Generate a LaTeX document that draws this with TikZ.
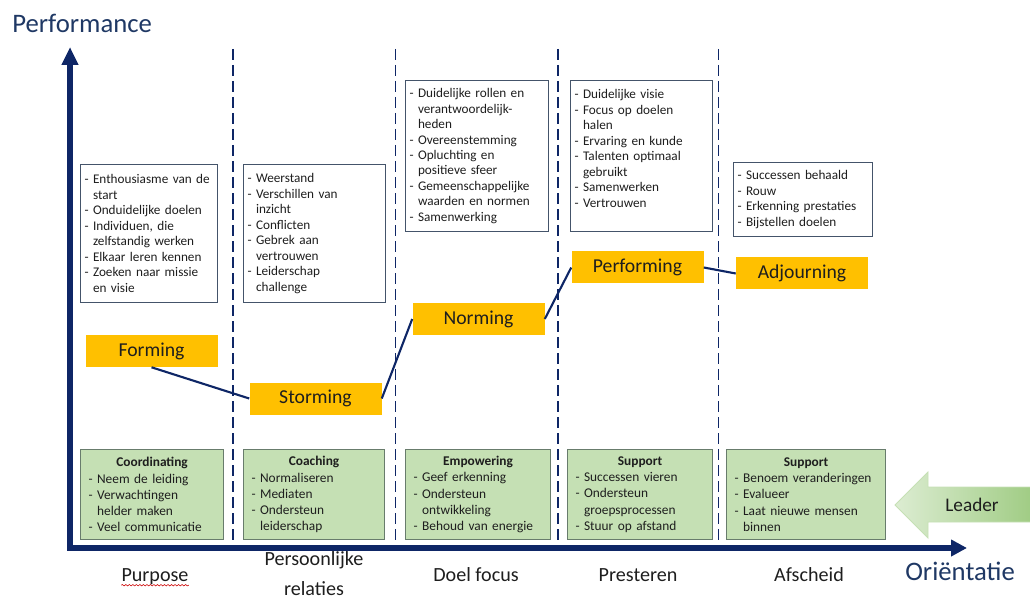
\documentclass[tikz,border=0pt]{standalone}
\usepackage{fontspec}
\setmainfont{Carlito}
\usetikzlibrary{positioning,arrows.meta,decorations.pathmorphing}
\definecolor{Navy}{RGB}{14,38,102}
\definecolor{NavyText}{RGB}{31,56,100}
\definecolor{Slate}{RGB}{68,84,106}
\definecolor{Amber}{RGB}{255,192,0}
\definecolor{Sage}{RGB}{197,224,180}
\definecolor{SageDark}{RGB}{104,124,108}
\definecolor{Leaf}{RGB}{160,204,132}
\definecolor{Ink}{RGB}{30,30,30}

% indent for wrapped list lines
\newcommand{\cont}{\hphantom{-\ }}

\begin{document}
\begin{tikzpicture}[
    note/.style={rectangle,draw=Slate,fill=white,line width=0.8pt,anchor=north west,align=left,inner xsep=0.1cm,text=Ink,font=\fontsize{9.4}{11}\selectfont},
    lead/.style={rectangle,draw=SageDark,fill=Sage,line width=0.8pt,anchor=north west,align=left,inner xsep=0.2cm,minimum height=2.25cm,text=Ink,font=\fontsize{9.5}{11.5}\selectfont},
    stage/.style={rectangle,fill=Amber,minimum width=3.3cm,minimum height=0.8cm,text=Ink,font=\fontsize{14}{16}\selectfont},
    phase/.style={inner sep=0pt,anchor=base,text=Ink,font=\fontsize{14.3}{21}\selectfont},
    axislabel/.style={inner sep=0pt,anchor=base west,text=NavyText,font=\fontsize{19}{22}\selectfont},
    axisline/.style={Navy,line width=3.6pt,line join=miter,{Triangle[length=0.45cm,width=0.4cm]}-{Triangle[length=0.4cm,width=0.4cm]}},
    divider/.style={Navy,line width=1.4pt,dash pattern=on 0.27cm off 0.13cm},
    link/.style={Navy,line width=1.5pt}
]
\useasboundingbox (0,0) rectangle (25.75,14.975);

% axes
\coordinate (origin) at (1.75,1.275);
\coordinate (ytip) at (1.75,13.8);
\coordinate (xtip) at (24.175,1.275);
\draw[axisline] (ytip) -- (origin) -- (xtip);
\node[axislabel] (perf) at (0.3,14.15) {Performance};
\node[axislabel] (orient) at (22.625,0.475) {Oriëntatie};

% phase dividers
\draw[divider] (5.825,13.75) -- (5.825,1.35);
\draw[divider] (9.8875,13.75) -- (9.8875,1.35);
\draw[divider] (13.95,13.75) -- (13.95,1.35);
\draw[divider] (17.9625,13.75) -- (17.9625,1.35);

% team characteristics per stage
\node[note,text width=3.225cm,minimum height=3.45cm] (note1) at (2.0,10.875)
  {- Enthousiasme van de\\\cont start\\- Onduidelijke doelen\\- Individuen, die\\\cont zelfstandig werken\\- Elkaar leren kennen\\- Zoeken naar missie\\\cont en visie};
\node[note,text width=3.35cm,minimum height=3.45cm] (note2) at (6.075,10.875)
  {- Weerstand\\- Verschillen van\\\cont inzicht\\- Conflicten\\- Gebrek aan\\\cont vertrouwen\\- Leiderschap\\\cont challenge};
\node[note,text width=3.375cm,minimum height=3.775cm] (note3) at (10.125,12.975)
  {- Duidelijke rollen en\\\cont verantwoordelijk-\\\cont heden\\- Overeenstemming\\- Opluchting en\\\cont positieve sfeer\\- Gemeenschappelijke\\\cont waarden en normen\\- Samenwerking};
\node[note,text width=3.35cm,minimum height=3.775cm] (note4) at (14.25,12.975)
  {- Duidelijke visie\\- Focus op doelen\\\cont halen\\- Ervaring en kunde\\- Talenten optimaal\\\cont gebruikt\\- Samenwerken\\- Vertrouwen\\\mbox{}};
\node[note,text width=3.275cm,minimum height=1.85cm] (note5) at (18.325,10.925)
  {- Successen behaald\\- Rouw\\- Erkenning prestaties\\- Bijstellen doelen};

% Tuckman stages
\node[stage] (forming) at (3.7875,6.2) {Forming};
\node[stage] (storming) at (7.8875,5.0125) {Storming};
\node[stage] (norming) at (11.9625,7.0) {Norming};
\node[stage] (performing) at (15.9375,8.2875) {Performing};
\node[stage] (adjourning) at (20.05,8.1375) {Adjourning};

\draw[link] (forming.south) -- (storming.west);
\draw[link] (storming.east) -- (norming.west);
\draw[link] (norming.east) -- (performing.west);
\draw[link] (performing.east) -- (adjourning.west);

% leadership style per stage
\node[lead,text width=3.175cm] (lead1) at (2.0,3.75)
  {{\centering\bfseries Coordinating\par}- Neem de leiding\\- Verwachtingen\\\cont helder maken\\- Veel communicatie};
\node[lead,text width=3.125cm] (lead2) at (6.075,3.75)
  {{\centering\bfseries Coaching\par}- Normaliseren\\- Mediaten\\- Ondersteun\\\cont leiderschap};
\node[lead,text width=3.225cm] (lead3) at (10.125,3.75)
  {{\centering\bfseries Empowering\par}- Geef erkenning\\- Ondersteun\\\cont ontwikkeling\\- Behoud van energie};
\node[lead,text width=3.225cm] (lead4) at (14.175,3.75)
  {{\centering\bfseries Support\par}- Successen vieren\\- Ondersteun\\\cont groepsprocessen\\- Stuur op afstand};
\node[lead,text width=3.575cm] (lead5) at (18.15,3.75)
  {{\centering\bfseries Support\par}- Benoem veranderingen\\- Evalueer\\- Laat nieuwe mensen\\\cont binnen};

% leader arrow
\draw[draw=Leaf!60,line width=0.6pt,left color=Sage!60,right color=Leaf]
  (22.375,2.35) -- (23.2,3.175) -- (23.2,2.8) -- (25.8,2.8) -- (25.8,1.925)
  -- (23.2,1.925) -- (23.2,1.525) -- cycle;
\node[text=Ink,font=\fontsize{13.7}{16}\selectfont] (leader) at (24.3,2.35) {Leader};

% phase names
\node[phase] (purpose) at (3.875,0.45) {Purpose};
\node[phase,align=center] (relations) at (7.85,0.1) {Persoonlijke\\relaties};
\node[phase] (goal) at (11.9,0.45) {Doel focus};
\node[phase] (excel) at (15.95,0.45) {Presteren};
\node[phase] (farewell) at (20.225,0.45) {Afscheid};
\draw[red!80!black,line width=0.4pt,decorate,decoration={snake,amplitude=0.5pt,segment length=2.5pt}]
  ([yshift=-3pt]purpose.base west) -- ([yshift=-3pt]purpose.base east);

\end{tikzpicture}
\end{document}
